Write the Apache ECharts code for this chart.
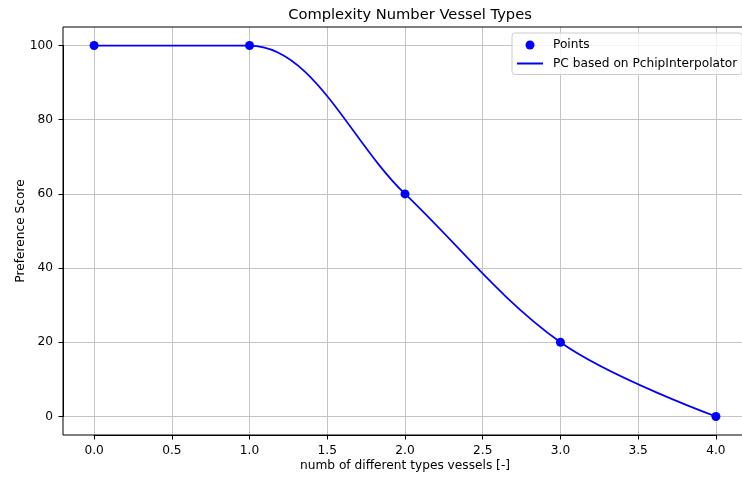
<!DOCTYPE html>
<html>
<head>
<meta charset="utf-8">
<script src="https://cdn.jsdelivr.net/npm/echarts@6/dist/echarts.min.js"></script>
<style>
  html, body { margin: 0; padding: 0; background: #fff; }
  #chart { width: 742px; height: 478px; }
</style>
</head>
<body>
<div id="chart"></div>
<script>
// Number of different vessel types and the preference score given to each
const vesselTypes = [0, 1, 2, 3, 4];
const preferenceScores = [100, 100, 60, 20, 0];

// Tick layout of the two axes
const xTickMin = 0, xTickMax = 4, xTickStep = 0.5;
const yTickMin = 0, yTickMax = 100, yTickStep = 20;

const FONT = 'DejaVu Sans';
const GRID_COLOR = '#c4c4c4';
const BLUE = '#0000ff';
const BASE_SIZE = 12.2;

// Plot area and view range (axes padded by 5% of the data span)
const plotLeft = 63, plotTop = 27, plotWidth = 684, plotHeight = 408;
const xView = [-0.2, 4.2];
const yView = [-5, 105];
const pxPerX = plotWidth / (xView[1] - xView[0]);
const pxPerY = plotHeight / (yView[1] - yView[0]);

const pairs = vesselTypes.map((v, i) => [v, preferenceScores[i]]);

const chart = echarts.init(document.getElementById('chart'), null, { renderer: 'canvas' });

function tickLabel(extra) {
  return Object.assign({ color: '#000', fontFamily: FONT, fontSize: BASE_SIZE, margin: 10 }, extra || {});
}
function nameStyle() {
  return { color: '#000', fontFamily: FONT, fontSize: BASE_SIZE };
}
function spine() {
  return { show: true, onZero: false, lineStyle: { color: '#000', width: 1 } };
}
function tickMark() {
  return { show: true, inside: false, length: 4.5, lineStyle: { color: '#000', width: 1 } };
}
function gridLines() {
  return { show: true, lineStyle: { color: GRID_COLOR, width: 1 } };
}

chart.setOption({
  animation: false,
  backgroundColor: '#fff',
  title: {
    text: 'Complexity Number Vessel Types',
    left: plotLeft + plotWidth / 2,
    textAlign: 'center',
    top: 3,
    textStyle: { color: '#000', fontFamily: FONT, fontSize: 14.7, fontWeight: 'normal' }
  },
  legend: {
    orient: 'vertical',
    left: 512,
    top: 33,
    padding: [6, 5, 5, 4],
    itemGap: 6.5,
    itemWidth: 26,
    itemHeight: 9,
    borderColor: '#cccccc',
    borderWidth: 1,
    borderRadius: 3,
    backgroundColor: 'rgba(255,255,255,0.8)',
    textStyle: { color: '#000', fontFamily: FONT, fontSize: BASE_SIZE, padding: [0, 0, 0, 5] },
    data: [
      { name: 'Points', icon: 'circle' },
      { name: 'PC based on PchipInterpolator', itemStyle: { opacity: 0 } }
    ]
  },
  grid: [
    // data area with the frame
    { left: plotLeft, top: plotTop, width: plotWidth, height: plotHeight, outerBoundsMode: 'none',
      show: true, borderColor: '#000', borderWidth: 1, backgroundColor: 'transparent', z: 3 },
    // x ticks span
    { left: plotLeft - xView[0] * pxPerX, top: plotTop, width: (xTickMax - xTickMin) * pxPerX,
      height: plotHeight, outerBoundsMode: 'none' },
    // y ticks span
    { left: plotLeft, top: plotTop + (yView[1] - yTickMax) * pxPerY, width: plotWidth,
      height: (yTickMax - yTickMin) * pxPerY, outerBoundsMode: 'none' }
  ],
  xAxis: [
    { gridIndex: 0, type: 'value', min: xView[0], max: xView[1],
      axisLine: { show: false, onZero: false }, axisTick: { show: false }, axisLabel: { show: false }, splitLine: { show: false } },
    { gridIndex: 1, type: 'value', min: xTickMin, max: xTickMax, interval: xTickStep, position: 'bottom',
      name: 'numb of different types vessels [-]', nameLocation: 'middle', nameGap: 25,
      nameMoveOverlap: false,
      nameTextStyle: nameStyle(),
      axisLine: spine(),
      axisTick: tickMark(),
      axisLabel: tickLabel({ formatter: v => v.toFixed(1) }),
      splitLine: gridLines() },
    { gridIndex: 2, type: 'value', min: xView[0], max: xView[1], show: false,
      axisLine: { onZero: false } }
  ],
  yAxis: [
    { gridIndex: 0, type: 'value', min: yView[0], max: yView[1],
      axisLine: { show: false, onZero: false }, axisTick: { show: false }, axisLabel: { show: false }, splitLine: { show: false } },
    { gridIndex: 1, type: 'value', min: 0, max: 1, show: false, axisLine: { onZero: false } },
    { gridIndex: 2, type: 'value', min: yTickMin, max: yTickMax, interval: yTickStep, position: 'left',
      name: 'Preference Score', nameLocation: 'middle', nameGap: 36, nameRotate: 90,
      nameMoveOverlap: false,
      nameTextStyle: nameStyle(),
      axisLine: spine(),
      axisTick: tickMark(),
      axisLabel: tickLabel(),
      splitLine: gridLines() }
  ],
  series: [
    {
      name: 'Points',
      type: 'scatter',
      xAxisIndex: 0, yAxisIndex: 0,
      symbol: 'circle',
      symbolSize: 9,
      itemStyle: { color: BLUE, opacity: 1 },
      data: pairs,
      z: 4
    },
    {
      name: 'PC based on PchipInterpolator',
      type: 'line',
      xAxisIndex: 0, yAxisIndex: 0,
      smooth: 0.35,
      showSymbol: false,
      symbol: 'none',
      lineStyle: { color: BLUE, width: 1.7 },
      itemStyle: { color: BLUE },
      data: pairs,
      z: 4
    }
  ]
});
</script>
</body>
</html>
